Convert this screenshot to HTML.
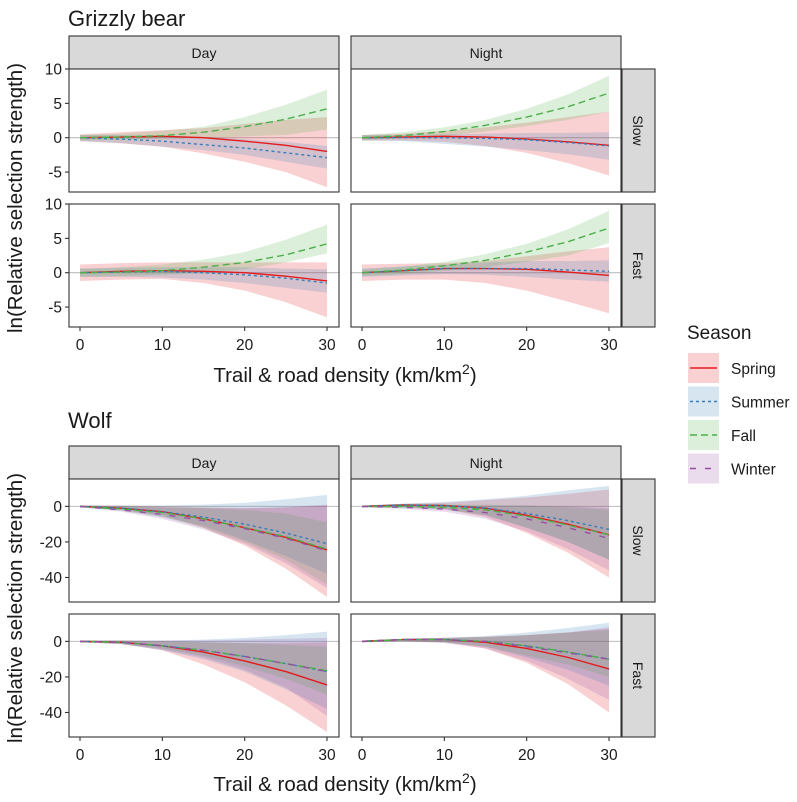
<!DOCTYPE html>
<html><head><meta charset="utf-8"><style>
body{margin:0;background:#fff}
svg text{font-family:"Liberation Sans",sans-serif;fill:#1a1a1a}
</style></head><body>
<svg id="c" width="797" height="797" viewBox="0 0 797 797" xmlns="http://www.w3.org/2000/svg"></svg>
<script>
const xs=[0,5,10,15,20,25,30];
const seasons=["Spring","Summer","Fall","Winter"];
const colors={Spring:"#E41A1C",Summer:"#377EB8",Fall:"#4DAF4A",Winter:"#984EA3"};
const dashes={Spring:"",Summer:"3,3",Fall:"7,4",Winter:"6,9"};
const xTicks=[0,10,20,30];
const grizzlyTicks=[-5,0,5,10];
const wolfTicks=[-40,-20,0];
// Grizzly bear: [mean, lo, hi]
const gDaySlow={Spring:[[0,0.1,0.2,0,-0.5,-1.1,-2],[-0.5,-0.8,-1.3,-2.3,-3.5,-5,-7.2],[0.5,0.8,1.1,1.4,2,2.6,3]],
Summer:[[0,-0.2,-0.5,-1,-1.5,-2.2,-2.9],[-0.5,-0.8,-1.3,-1.8,-2.5,-3.5,-4.5],[0.4,0.4,0.3,0.1,-0.2,-0.6,-1.2]],
Fall:[[0,0.1,0.3,0.8,1.6,2.7,4.2],[-0.4,-0.3,-0.1,0,0.2,0.4,1.2],[0.4,0.6,1,1.6,3,4.8,7]]};
const gDayFast={Spring:[[0,0.2,0.3,0.2,0,-0.5,-1.2],[-1.2,-1,-0.9,-1.5,-2.6,-4.3,-6.5],[1.2,1.4,1.5,1.5,1.5,1.5,1.5]],
Summer:[[0,0.1,0.2,0,-0.3,-0.8,-1.5],[-0.6,-0.6,-0.7,-1,-1.5,-2.2,-2.9],[0.6,0.7,0.8,0.8,0.8,0.6,0.5]],
Fall:[[0,0.1,0.3,0.8,1.5,2.6,4.2],[-0.6,-0.5,-0.3,0,0.5,1.5,2.8],[0.6,0.8,1.2,1.9,3,4.8,7]]};
const gNightSlow={Spring:[[0,0.1,0.2,0.1,-0.2,-0.6,-1.1],[-0.4,-0.4,-0.6,-1.2,-2.2,-3.7,-5.5],[0.4,0.6,1,1.5,2.2,3,3.8]],
Summer:[[0,0,0,-0.1,-0.3,-0.7,-1.2],[-0.4,-0.5,-0.9,-1.3,-1.8,-2.4,-3.2],[0.4,0.4,0.5,0.6,0.7,0.7,0.8]],
Fall:[[0,0.3,0.9,1.8,3,4.5,6.5],[-0.4,-0.1,0.3,0.9,1.7,2.6,3.8],[0.4,0.8,1.5,2.6,4.2,6.3,9]]};
const gNightFast={Spring:[[0,0.3,0.6,0.6,0.5,0.1,-0.4],[-1.2,-1,-1,-1.5,-2.6,-4.2,-5.9],[1.2,1.3,1.4,1.7,2.4,3.1,3.7]],
Summer:[[0,0.3,0.6,0.6,0.6,0.4,0.2],[-0.6,-0.4,-0.2,-0.3,-0.6,-1,-1.3],[0.6,0.9,1.2,1.5,1.7,1.7,1.8]],
Fall:[[0,0.4,1,1.8,3,4.5,6.5],[-0.5,-0.2,0.3,0.8,1.6,2.5,4.3],[0.5,0.9,1.6,2.7,4.2,6.3,9]]};
// Wolf
const wDaySlow={Spring:[[0,-1,-3,-7,-12,-17.5,-24.5],[-0.5,-2,-5,-12,-22,-35,-51],[0.5,0.5,0,-0.5,-1,-0.5,0.5]],
Summer:[[0,-1,-3,-6,-10,-15,-21],[-0.5,-2,-6,-11,-19,-28,-38],[0.5,0.5,0.5,1,2,4,6.5]],
Fall:[[0,-1.5,-3.5,-7,-12,-17,-24],[-0.5,-2.5,-6,-12,-20,-30,-44],[0.5,0,-0.5,-1,-2,-4,-9]],
Winter:[[0,-2,-4.5,-8,-12.5,-18,-25],[-0.5,-3,-7,-13,-21,-32,-46],[0.5,0,-0.5,-1,-1,-0.5,1]]};
const wDayFast={Spring:[[0,-0.5,-2.5,-6,-11,-17,-24.5],[-0.5,-1.5,-5,-13,-23,-36,-51],[0.5,0.5,0,-0.5,-1,-1,-0.5]],
Summer:[[0,-0.5,-2.5,-5,-8.5,-12.5,-17],[-0.5,-1.5,-5,-10,-17,-27,-38],[0.5,0.5,0.5,1,2,3.5,5.5]],
Fall:[[0,-0.5,-2.5,-5,-8.5,-12.5,-16.5],[-0.5,-1.5,-4,-8,-14,-21,-30],[0.5,0.5,0,-0.5,-1,-2,-3]],
Winter:[[0,-0.5,-2.5,-5,-8.5,-12.5,-17],[-0.5,-1.5,-4.5,-9,-16,-26,-42],[0.5,0.5,0.5,0.5,1,1.5,2]]};
const wNightSlow={Spring:[[0,0.8,0.5,-1,-5,-10,-16],[-0.5,-0.5,-1.5,-6,-15,-26,-40],[0.5,1.5,2,3.5,5,7,9.5]],
Summer:[[0,0.8,0.5,-1,-4,-8,-13],[-0.5,-0.5,-1.5,-5,-12,-20,-30],[0.5,1.5,2.5,4,6,9,11.5]],
Fall:[[0,0,-0.5,-2,-5.5,-10.5,-16],[-0.5,-1,-2,-5,-12,-20,-30],[0.5,0.8,1,1,0.5,-0.5,-2]],
Winter:[[0,-0.5,-1.5,-3.5,-7,-12,-18],[-0.5,-1.5,-3,-7,-14,-24,-36],[0.5,0.5,0.5,0.5,0.5,0,-1]]};
const wNightFast={Spring:[[0,1,1,-0.5,-4,-9,-15.5],[-0.5,0,-0.5,-4,-12,-24,-40],[0.5,1.5,2,2.5,3.5,5,7]],
Summer:[[0,1,1,0,-2.5,-6,-10],[-0.5,0,-0.5,-3,-9,-16,-25],[0.5,1.5,2,3,5,7.5,10.5]],
Fall:[[0,1,1,0,-2.5,-6,-10],[-0.5,0,-0.5,-3,-8,-13,-20],[0.5,1.5,2,2.5,3.5,5,6.5]],
Winter:[[0,1,1,0,-3,-6.5,-10],[-0.5,0,-1,-4,-11,-21,-33],[0.5,1.5,2,2.5,3.5,5,8]]};

const NS="http://www.w3.org/2000/svg";
const svg=document.getElementById("c");
function mk(tag,attrs,parent,text){const e=document.createElementNS(NS,tag);for(const k in attrs)e.setAttribute(k,attrs[k]);if(text!==undefined)e.textContent=text;(parent||svg).appendChild(e);return e;}

const cols=[{x0:69,x1:339,px0:80,px1:327,lab:"Day"},{x0:351,x1:621,px0:362,px1:609,lab:"Night"}];
function panel(col,top,bot,ymin,ymax,data,name){
  const c=cols[col];
  const sx=v=>c.px0+(v-0)/(30-0)*(c.px1-c.px0);
  const sy=v=>bot-(v-ymin)/(ymax-ymin)*(bot-top);
  const g=mk("g",{},svg);
  
  
  mk("rect",{x:c.x0,y:top,width:c.x1-c.x0,height:bot-top,fill:"#fff"},g);
  mk("line",{x1:c.x0,x2:c.x1,y1:sy(0),y2:sy(0),stroke:"#bdbdbd","stroke-width":1.1},g);
  for(const s of seasons){ if(!data[s])continue;
    const [m,lo,hi]=data[s];
    let d="M"+xs.map((x,i)=>sx(x)+","+sy(hi[i])).join("L")+"L"+xs.map((x,i)=>sx(x)+","+sy(lo[i])).reverse().join("L")+"Z";
    const r=mk("path",{d:d,fill:colors[s],"fill-opacity":0.2},g);
    
    
  }
  for(const s of seasons){ if(!data[s])continue;
    const m=data[s][0];
    const l=mk("path",{d:"M"+xs.map((x,i)=>sx(x)+","+sy(m[i])).join("L"),fill:"none",stroke:colors[s],"stroke-width":1.4,"stroke-dasharray":dashes[s]},g);
    
    
  }
  mk("rect",{x:c.x0,y:top,width:c.x1-c.x0,height:bot-top,fill:"none",stroke:"#333","stroke-width":1.1},g);
  return {sx,sy};
}
function yaxis(top,bot,ymin,ymax,ticks){
  for(const t of ticks){const y=bot-(t-ymin)/(ymax-ymin)*(bot-top);
    mk("line",{x1:65,x2:69,y1:y,y2:y,stroke:"#333","stroke-width":1.1});
    const e=mk("text",{x:62,y:y+5.5,"text-anchor":"end","font-size":15.5,fill:"#4d4d4d"},svg,String(t));
    
    }
}
function xaxis(bot,ly){
  for(const c of cols){for(const t of xTicks){const x=c.px0+t/30*(c.px1-c.px0);
    mk("line",{x1:x,x2:x,y1:bot,y2:bot+4,stroke:"#333","stroke-width":1.1});
    const e=mk("text",{x:x,y:ly,"text-anchor":"middle","font-size":15.5,fill:"#4d4d4d"},svg,String(t));
    
    }}
}
function strips(top,rows){
  for(const c of cols){mk("rect",{x:c.x0,y:top,width:c.x1-c.x0,height:33,fill:"#d9d9d9",stroke:"#333","stroke-width":1.1});
    const e=mk("text",{x:(c.x0+c.x1)/2,y:top+22,"text-anchor":"middle","font-size":14},svg,c.lab);
    
    }
  for(const r of rows){mk("rect",{x:622,y:r[0],width:33,height:r[1]-r[0],fill:"#d9d9d9",stroke:"#333","stroke-width":1.1});
    const cy=(r[0]+r[1])/2;
    const e=mk("text",{x:633,y:cy,"text-anchor":"middle","font-size":14,transform:`rotate(90 633 ${cy})`},svg,r[2]);
    
    }
}
// Grizzly
let t=mk("text",{x:68,y:26,"font-size":22,fill:"#000"},svg,"Grizzly bear");

strips(36,[[69,192,"Slow"],[204,327,"Fast"]]);
panel(0,69,192,-7.9,10,gDaySlow,"grizzly-day-slow");
panel(1,69,192,-7.9,10,gNightSlow,"grizzly-night-slow");
panel(0,204,327,-7.9,10,gDayFast,"grizzly-day-fast");
panel(1,204,327,-7.9,10,gNightFast,"grizzly-night-fast");
yaxis(69,192,-7.9,10,grizzlyTicks);yaxis(204,327,-7.9,10,grizzlyTicks);
xaxis(327,350);
// Wolf
t=mk("text",{x:68,y:428,"font-size":22,fill:"#000"},svg,"Wolf");

strips(446,[[479,602,"Slow"],[614,737,"Fast"]]);
panel(0,479,602,-53.8,15.4,wDaySlow,"wolf-day-slow");
panel(1,479,602,-53.8,15.4,wNightSlow,"wolf-night-slow");
panel(0,614,737,-53.8,15.4,wDayFast,"wolf-day-fast");
panel(1,614,737,-53.8,15.4,wNightFast,"wolf-night-fast");
yaxis(479,602,-53.8,15.4,wolfTicks);yaxis(614,737,-53.8,15.4,wolfTicks);
xaxis(737,760);
// axis titles
for(const [cy,ty,n] of [[198,382,"grizzly"],[608,791,"wolf"]]){
  let a=mk("text",{x:22,y:cy,"text-anchor":"middle","font-size":20.5,fill:"#000",transform:`rotate(-90 22 ${cy})`},svg,"ln(Relative selection strength)");
  
  a=mk("text",{x:345,y:ty,"text-anchor":"middle","font-size":20.5,fill:"#000"},svg);
  
  a.appendChild(document.createTextNode("Trail & road density (km/km"));
  const sp=mk("tspan",{"font-size":14,dy:-8},a,"2");
  const sp2=mk("tspan",{dy:8},a,")");
}
// legend
t=mk("text",{x:687,y:339,"font-size":19,fill:"#000"},svg,"Season");

seasons.forEach((s,i)=>{const y=353+i*33.5;
  const g=mk("g",{},svg);
  
  
  mk("rect",{x:688,y:y,width:31,height:30,fill:colors[s],"fill-opacity":0.2},g);
  mk("line",{x1:690,x2:717,y1:y+15,y2:y+15,stroke:colors[s],"stroke-width":1.4,"stroke-dasharray":dashes[s]},g);
  mk("text",{x:731,y:y+21,"font-size":15.5},g,s);
});
</script>
</body></html>
